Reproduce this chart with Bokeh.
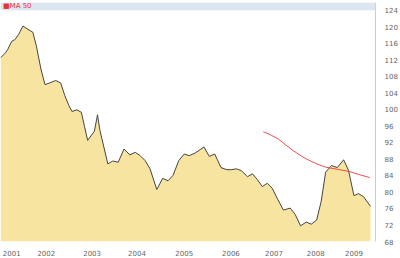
from bokeh.plotting import figure
from bokeh.models import (Range1d, FixedTicker, BoxAnnotation, Legend, LegendItem)
from bokeh.embed import file_html
from bokeh.resources import INLINE

# ---- data ----
price_x = [2000.98, 2001.09, 2001.14, 2001.23, 2001.30, 2001.38, 2001.48, 2001.59, 2001.70, 2001.78,
           2001.88, 2001.97, 2002.07, 2002.21, 2002.32, 2002.41, 2002.50, 2002.57, 2002.68, 2002.78,
           2002.85, 2002.92, 2003.07, 2003.14, 2003.19, 2003.37, 2003.48, 2003.60, 2003.73, 2003.86,
           2003.98, 2004.09, 2004.20, 2004.31, 2004.46, 2004.59, 2004.71, 2004.82, 2004.95, 2005.07,
           2005.18, 2005.31, 2005.51, 2005.63, 2005.75, 2005.89, 2006.02, 2006.12, 2006.23, 2006.34,
           2006.48, 2006.59, 2006.70, 2006.81, 2006.92, 2007.03, 2007.14, 2007.28, 2007.43, 2007.54,
           2007.66, 2007.79, 2007.90, 2008.02, 2008.12, 2008.22, 2008.35, 2008.48, 2008.62, 2008.73,
           2008.85, 2008.95, 2009.06, 2009.22]
price = [112.5, 113.7, 114.5, 116.5, 116.9, 118.1, 120.2, 119.4, 118.7, 115.3,
         109.8, 106.0, 106.4, 107.0, 106.4, 103.4, 101.0, 99.5, 99.9, 99.3,
         95.9, 92.5, 94.7, 98.7, 95.1, 86.8, 87.5, 87.2, 90.4, 89.0,
         89.6, 88.8, 87.6, 85.6, 80.6, 83.3, 82.7, 84.0, 87.6, 89.2,
         88.8, 89.4, 90.9, 88.6, 89.2, 85.9, 85.4, 85.4, 85.6, 85.2,
         83.7, 84.4, 83.0, 81.3, 82.1, 80.9, 78.5, 75.6, 76.1, 74.6,
         71.8, 72.7, 72.2, 73.2, 77.7, 84.8, 86.4, 85.9, 87.8, 85.2,
         79.1, 79.6, 78.9, 76.5]

ma_x = [2006.83, 2007.00, 2007.17, 2007.33, 2007.50, 2007.65, 2007.79, 2008.00, 2008.22,
        2008.48, 2008.73, 2008.97, 2009.20]
ma50 = [94.6, 93.8, 92.8, 91.4, 90.0, 88.9, 88.0, 86.9, 86.0,
        85.5, 85.0, 84.2, 83.5]

year_labels = ["2001", "2002", "2003", "2004", "2005", "2006", "2007", "2008", "2009"]
year_ticks = [2001.23, 2002.00, 2003.02, 2004.02, 2005.07, 2006.11, 2007.07, 2008.00, 2008.85]
y_ticks = [68, 72, 76, 80, 84, 88, 92, 96, 100, 104, 108, 112, 116, 120, 124]

Y_MIN, Y_MAX = 68, 124
FONT = "DejaVu Sans"

p = figure(width=400, height=258, output_backend="svg", toolbar_location=None,
           y_axis_location="right",
           x_range=Range1d(2000.98, 2009.33),
           y_range=Range1d(Y_MIN, Y_MAX + 8 * 56 / 236),
           min_border_left=0, min_border_right=16, min_border_top=2, min_border_bottom=12)
p.background_fill_color = "white"
p.border_fill_color = "white"
p.outline_line_color = None
p.grid.visible = False

# legend bar along the top of the chart
p.add_layout(BoxAnnotation(bottom=Y_MAX, fill_color="#dce6f1", fill_alpha=1.0, line_color=None))

p.varea(x=price_x, y1=Y_MIN, y2=price, fill_color="#f7e4a0", fill_alpha=1.0)
p.line(x=price_x, y=price, line_color="#444444", line_width=1)
ma = p.line(x=ma_x, y=ma50, line_color="#e8332e", line_width=1, line_alpha=0.85)

legend = Legend(items=[LegendItem(label="\u25a0MA 50", renderers=[ma])],
                location="top_left", glyph_width=0, glyph_height=7, label_height=7,
                label_standoff=3, padding=0, margin=0, spacing=0,
                label_text_font=FONT, label_text_font_size="7px", label_text_color="#e8332e",
                background_fill_alpha=0, border_line_alpha=0)
p.add_layout(legend)

p.xaxis.ticker = FixedTicker(ticks=year_ticks)
p.xaxis.major_label_overrides = {t: s for t, s in zip(year_ticks, year_labels)}
p.xaxis.axis_line_color = None
p.xaxis.major_tick_line_color = None
p.xaxis.minor_tick_line_color = None
p.xaxis.major_label_standoff = 2
p.xaxis.major_label_text_font = FONT
p.xaxis.major_label_text_font_size = "7px"
p.xaxis.major_label_text_color = "#666666"

p.yaxis.ticker = FixedTicker(ticks=y_ticks)
p.yaxis.axis_line_color = "#cccccc"
p.yaxis.major_tick_line_color = None
p.yaxis.minor_tick_line_color = None
p.yaxis.major_label_standoff = 3
p.yaxis.major_label_text_font = FONT
p.yaxis.major_label_text_font_size = "7px"
p.yaxis.major_label_text_color = "#666666"

open("out.html", "w").write(file_html(p, INLINE))
